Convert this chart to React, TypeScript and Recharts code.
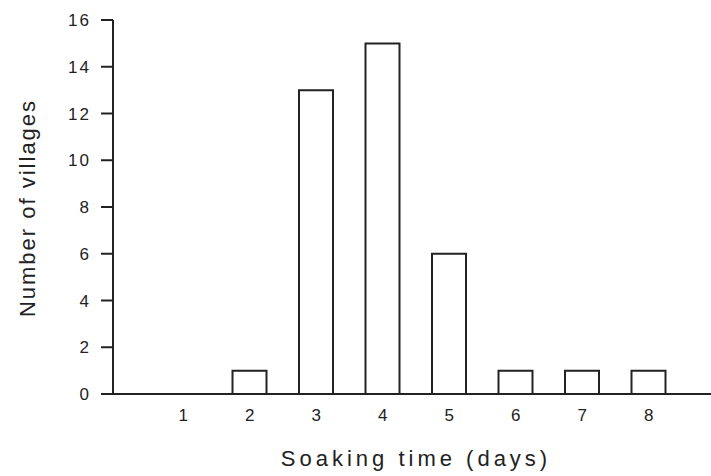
import React from "react";
import {Bar, BarChart, Label, XAxis, YAxis} from "recharts";

// soaking time in days
const days = ["1", "2", "3", "4", "5", "6", "7", "8"];
// number of villages for each soaking time
const villages = [0, 1, 13, 15, 6, 1, 1, 1];
const yTicks = [0, 2, 4, 6, 8, 10, 12, 14, 16];

const data = days.map((d, i) => ({day: d, villages: villages[i]}));

const ink = "#222";
const font = "'Liberation Sans', Arial, sans-serif";

export default function App() {
    return (
        <div style={{position: "absolute", left: 0, top: 0, background: "#fff"}}>
            <BarChart width={711} height={476} data={data} barSize={34}
                      margin={{top: 20, right: 0, left: 0, bottom: 0}}>
                <XAxis dataKey="day" height={82} padding={{left: 37, right: 29}}
                       axisLine={{stroke: ink, strokeWidth: 2}} tickLine={false} tickSize={0} tickMargin={15}
                       tick={{fill: ink, fontSize: 17, fontFamily: font}}>
                    <Label content={({viewBox}: any) => (
                        <text x={viewBox.x + viewBox.width / 2 + 4} y={466} textAnchor="middle"
                              fill={ink} fontSize={22} fontFamily={font} letterSpacing={4}>
                            Soaking time (days)
                        </text>
                    )}/>
                </XAxis>
                <YAxis type="number" domain={[0, 16]} ticks={yTicks} width={113} interval={0}
                       axisLine={{stroke: ink, strokeWidth: 2}} tickLine={{stroke: ink, strokeWidth: 2}}
                       tickSize={12} tickMargin={10}
                       tick={{fill: ink, fontSize: 17, fontFamily: font, letterSpacing: 2}}>
                    <Label content={({viewBox}: any) => {
                        const cy = viewBox.y + viewBox.height / 2 + 1;
                        return (
                            <text x={35} y={cy} transform={`rotate(-90 35 ${cy})`} textAnchor="middle"
                                  fill={ink} fontSize={22} fontFamily={font} letterSpacing={2}>
                                Number of villages
                            </text>
                        );
                    }}/>
                </YAxis>
                <Bar dataKey="villages" fill="#fff" stroke={ink} strokeWidth={2} isAnimationActive={false}/>
            </BarChart>
        </div>
    );
}
